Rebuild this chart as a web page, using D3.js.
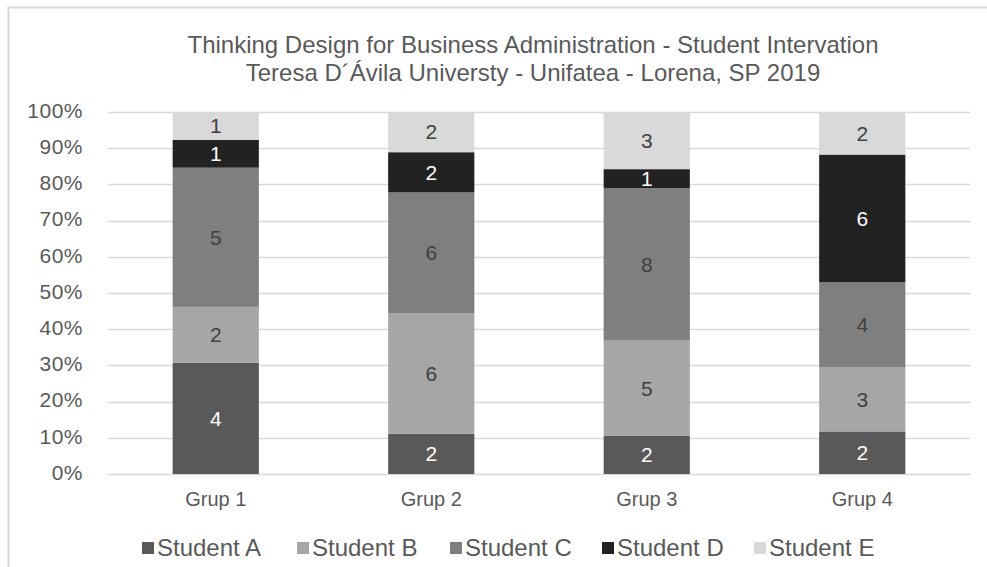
<!DOCTYPE html>
<html>
<head>
<meta charset="utf-8">
<script src="https://cdn.jsdelivr.net/npm/d3@7"></script>
<style>
  body { margin: 0; background: #fff; }
  text { font-family: "Liberation Sans", Arial, sans-serif; }
</style>
</head>
<body>
<svg id="chart" width="987" height="567"></svg>
<script>
  const groups = ["Grup 1", "Grup 2", "Grup 3", "Grup 4"];
  const students = ["Student A", "Student B", "Student C", "Student D", "Student E"];
  const studentA = [4, 2, 2, 2];
  const studentB = [2, 6, 5, 3];
  const studentC = [5, 6, 8, 4];
  const studentD = [1, 2, 1, 6];
  const studentE = [1, 2, 3, 2];
  const yTicks = [0, 0.1, 0.2, 0.3, 0.4, 0.5, 0.6, 0.7, 0.8, 0.9, 1];

  const colors = ["#595959", "#a6a6a6", "#7f7f7f", "#222222", "#d9d9d9"];
  const labelColors = ["#ffffff", "#404040", "#404040", "#ffffff", "#404040"];

  const series = [studentA, studentB, studentC, studentD, studentE];
  const rows = groups.map((g, i) => {
    const r = { group: g };
    students.forEach((s, j) => (r[s] = series[j][i]));
    return r;
  });

  const stacked = d3.stack().keys(students).offset(d3.stackOffsetExpand)(rows);

  const svg = d3.select("#chart");
  const margin = { left: 108, right: 17, top: 112, bottom: 93 };
  const width = 987, height = 567;

  // chart frame (only top and left edges visible)
  svg.append("rect")
    .attr("x", 8.5).attr("y", 7.5)
    .attr("width", 1000).attr("height", 600)
    .attr("fill", "none").attr("stroke", "#d9d9d9").attr("stroke-width", 2);

  const x = d3.scaleBand()
    .domain(groups)
    .range([margin.left, width - margin.right])
    .paddingInner(0.6).paddingOuter(0.3);

  const y = d3.scaleLinear()
    .domain([0, 1])
    .range([height - margin.bottom, margin.top]);

  // gridlines
  svg.append("g")
    .selectAll("line")
    .data(yTicks)
    .join("line")
    .attr("x1", margin.left).attr("x2", width - margin.right)
    .attr("y1", (d) => Math.round(y(d)) + 0.5).attr("y2", (d) => Math.round(y(d)) + 0.5)
    .attr("stroke", "#d9d9d9").attr("stroke-width", 1.5);

  // y tick labels
  svg.append("g")
    .selectAll("text")
    .data(yTicks)
    .join("text")
    .attr("x", 83)
    .attr("y", (d) => y(d))
    .attr("dy", "0.28em")
    .attr("text-anchor", "end")
    .attr("fill", "#595959")
    .style("font-size", "21px")
    .style("letter-spacing", "0.5px")
    .text((d) => d3.format(".0%")(d));

  // bars
  const layer = svg.append("g")
    .selectAll("g")
    .data(stacked)
    .join("g")
    .attr("fill", (d, i) => colors[i]);

  layer.selectAll("rect")
    .data((d) => d)
    .join("rect")
    .attr("x", (d) => x(d.data.group))
    .attr("width", x.bandwidth())
    .attr("y", (d) => y(d[1]))
    .attr("height", (d) => y(d[0]) - y(d[1]));

  // value labels
  stacked.forEach((s, i) => {
    svg.append("g")
      .selectAll("text")
      .data(s)
      .join("text")
      .attr("x", (d) => x(d.data.group) + x.bandwidth() / 2)
      .attr("y", (d) => (y(d[0]) + y(d[1])) / 2)
      .attr("dy", "0.35em")
      .attr("text-anchor", "middle")
      .attr("fill", labelColors[i])
      .style("font-size", "21px")
      .text((d) => d.data[s.key]);
  });

  // x labels
  svg.append("g")
    .selectAll("text")
    .data(groups)
    .join("text")
    .attr("x", (d) => x(d) + x.bandwidth() / 2)
    .attr("y", 506)
    .attr("text-anchor", "middle")
    .attr("fill", "#595959")
    .style("font-size", "20px")
    .text((d) => d);

  // title
  const title = svg.append("text")
    .attr("x", 533).attr("y", 53)
    .attr("text-anchor", "middle")
    .attr("fill", "#595959")
    .style("font-size", "24px");
  title.append("tspan").attr("x", 533).text("Thinking Design for Business Administration - Student Intervation");
  title.append("tspan").attr("x", 533).attr("dy", 28).text("Teresa D´Ávila Universty - Unifatea - Lorena, SP 2019");

  // legend
  const legendX = [142, 297, 450, 602, 754];
  const legend = svg.append("g")
    .selectAll("g")
    .data(students)
    .join("g")
    .attr("transform", (d, i) => `translate(${legendX[i]},556)`);
  legend.append("rect")
    .attr("x", 0).attr("y", -14)
    .attr("width", 12).attr("height", 12)
    .attr("fill", (d, i) => colors[i]);
  legend.append("text")
    .attr("x", 15)
    .attr("fill", "#595959")
    .style("font-size", "24px")
    .text((d) => d);
</script>
</body>
</html>
